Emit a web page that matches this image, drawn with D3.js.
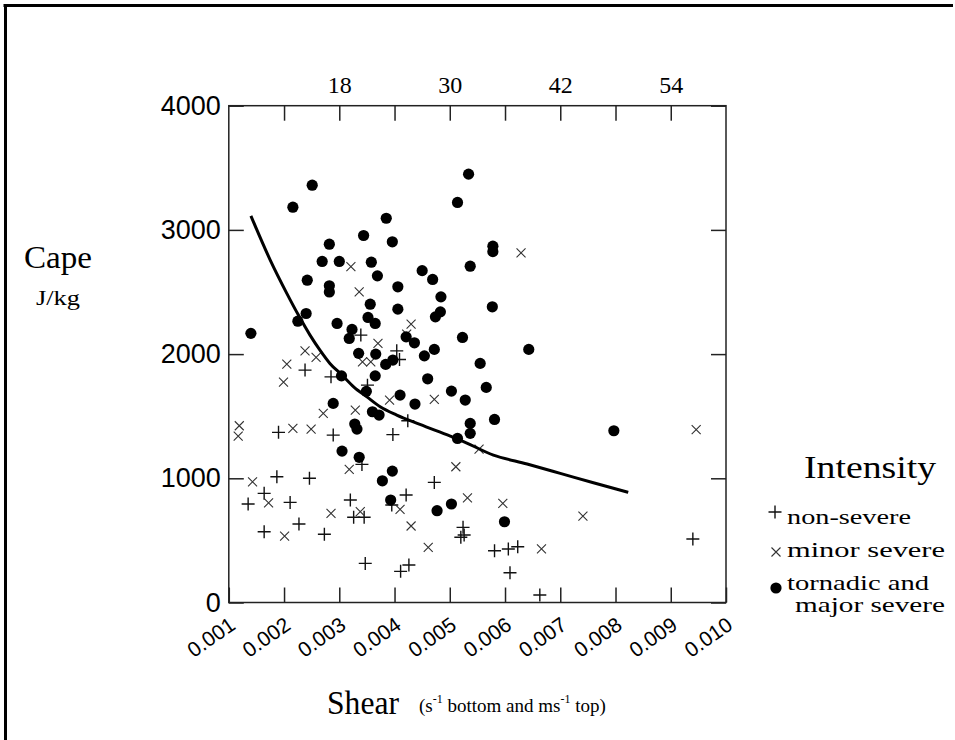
<!DOCTYPE html>
<html>
<head>
<meta charset="utf-8">
<script src="https://cdn.jsdelivr.net/npm/d3@7"></script>
<style>
  html, body { margin: 0; padding: 0; background: #fff; }
  svg { display: block; }
  .serif { font-family: "Liberation Serif", "Times New Roman", serif; }
  .sans { font-family: "Liberation Sans", Arial, sans-serif; }
</style>
</head>
<body>
<svg id="chart" width="955" height="740"></svg>
<script>
// ---------------- data ----------------
const shearTicks = [0.001, 0.002, 0.003, 0.004, 0.005, 0.006, 0.007, 0.008, 0.009, 0.010];
const shearTickLabels = ["0.001", "0.002", "0.003", "0.004", "0.005", "0.006", "0.007", "0.008", "0.009", "0.010"];
const topTicks = [12, 18, 24, 30, 36, 42, 48, 54];
const topTickLabels = [18, 30, 42, 54];
const capeTicks = [0, 1000, 2000, 3000, 4000];

// [shear (s^-1), CAPE (J/kg)]
const nonSevere = [
  [0.00339,2153],[0.00404,2026],[0.00409,1957],[0.00238,1871],[0.00285,1817],[0.00351,1750],
  [0.00424,1463],[0.00190,1370],[0.00289,1348],[0.00397,1352],[0.00341,1112],[0.00187,1012],
  [0.00246,1000],[0.00472,967],[0.00164,879],[0.00421,865],[0.00135,793],[0.00211,806],
  [0.00320,825],[0.00395,785],[0.00326,686],[0.00345,686],[0.00227,632],[0.00164,570],
  [0.00273,549],[0.00524,605],[0.00526,543],[0.00520,525],[0.00347,315],[0.00426,302],
  [0.00411,251],[0.00581,417],[0.00606,431],[0.00623,449],[0.00940,511],[0.00609,240],[0.00663,60]
];
const minorSevere = [
  [0.00321,2704],[0.00629,2815],[0.00336,2501],[0.00430,2241],[0.00422,2161],[0.00370,2086],
  [0.00238,2026],[0.00258,1973],[0.00205,1919],[0.00342,1938],[0.00357,1938],[0.00199,1775],
  [0.00472,1635],[0.00391,1630],[0.00329,1549],[0.00271,1523],[0.00119,1423],[0.00117,1340],
  [0.00216,1402],[0.00249,1396],[0.00946,1392],[0.00318,1072],[0.00511,1093],[0.00143,972],
  [0.00172,803],[0.00410,750],[0.00532,843],[0.00285,718],[0.00338,731],[0.00430,616],
  [0.00201,535],[0.00461,444],[0.00553,1235],[0.00596,798],[0.00741,696],[0.00666,431]
];
const tornadic = [
  [0.00251,3360],[0.00216,3183],[0.00385,3094],[0.00344,2955],[0.00396,2904],[0.00282,2885],
  [0.00269,2746],[0.00300,2746],[0.00358,2740],[0.00450,2672],[0.00534,3449],[0.00514,3221],
  [0.00537,2708],[0.00578,2869],[0.00578,2825],[0.00469,2601],[0.00242,2595],[0.00369,2630],
  [0.00282,2550],[0.00282,2500],[0.00406,2542],[0.00484,2461],[0.00356,2402],[0.00406,2362],
  [0.00483,2340],[0.00474,2300],[0.00240,2327],[0.00225,2265],[0.00352,2295],[0.00365,2247],
  [0.00296,2247],[0.00323,2199],[0.00318,2126],[0.00421,2139],[0.00436,2091],[0.00523,2134],
  [0.00140,2167],[0.00472,2038],[0.00335,2006],[0.00366,2000],[0.00454,1986],[0.00397,1952],
  [0.00384,1917],[0.00365,1825],[0.00304,1825],[0.00460,1801],[0.00349,1700],[0.00503,1702],
  [0.00410,1670],[0.00528,1630],[0.00437,1598],[0.00289,1603],[0.00360,1536],[0.00372,1509],
  [0.00328,1437],[0.00332,1396],[0.00537,1442],[0.00537,1362],[0.00514,1321],[0.00555,1925],
  [0.00577,2381],[0.00643,2038],[0.00566,1732],[0.00581,1474],[0.00797,1383],[0.00305,1219],
  [0.00336,1169],[0.00396,1058],[0.00378,980],[0.00393,825],[0.00477,739],[0.00503,793],[0.00599,650]
];
const curveShear = [0.00140,0.00175,0.00205,0.00226,0.00247,0.00265,0.00283,0.00305,0.00326,
                    0.00350,0.00374,0.00404,0.00446,0.00501,0.00519,0.00579,0.00640,0.00700,0.00760,0.00823];
const curveCape  = [3113,2757,2489,2314,2153,2032,1925,1831,1737,
                    1656,1576,1509,1434,1340,1308,1187,1115,1040,964,887];

const legendLabels = ["non-severe", "minor severe", "tornadic and", "major severe"];

// ---------------- layout ----------------
const svg = d3.select("#chart");
const X0 = 228.8, X1 = 726, Y0 = 602.5, Y1 = 105.7;

const x = d3.scaleLinear().domain([0.001, 0.010]).range([X0, X1]);
const xTop = d3.scaleLinear().domain([6, 60]).range([X0, X1]);
const y = d3.scaleLinear().domain([0, 4000]).range([Y0, Y1]);

// page frame (top + left rules)
svg.append("line").attr("x1", 3.5).attr("x2", 953).attr("y1", 5.5).attr("y2", 5.5)
  .attr("stroke", "#000").attr("stroke-width", 3);
svg.append("line").attr("x1", 5.5).attr("x2", 5.5).attr("y1", 4).attr("y2", 740)
  .attr("stroke", "#000").attr("stroke-width", 3);

// plot box
svg.append("rect").attr("x", X0).attr("y", Y1).attr("width", X1 - X0).attr("height", Y0 - Y1)
  .attr("fill", "none").attr("stroke", "#222").attr("stroke-width", 1.5);

function styleAxis(g) {
  g.select(".domain").remove();
  g.selectAll(".tick line").attr("stroke", "#222").attr("stroke-width", 1.5);
}

// bottom axis (ticks only; labels rotated separately)
svg.append("g").attr("transform", `translate(0,${Y0})`)
  .call(d3.axisBottom(x).tickValues(shearTicks).tickSize(-15).tickFormat(""))
  .call(styleAxis);

svg.append("g").selectAll("text").data(shearTicks).join("text")
  .attr("class", "sans")
  .attr("font-size", 21)
  .attr("text-anchor", "end")
  .attr("transform", d => `translate(${x(d) + 8},${628}) rotate(-35)`)
  .text((d, i) => shearTickLabels[i]);

// top axis
svg.append("g").attr("transform", `translate(0,${Y1})`)
  .call(d3.axisTop(xTop).tickValues(topTicks).tickSize(-15).tickPadding(13)
    .tickFormat(d => topTickLabels.includes(d) ? String(d) : ""))
  .call(styleAxis)
  .call(g => g.selectAll("text").attr("class", "serif").attr("font-size", 24)
    .attr("font-family", null).attr("fill", "#000"));

// left axis
svg.append("g").attr("transform", `translate(${X0},0)`)
  .call(d3.axisLeft(y).tickValues(capeTicks).tickSize(-15).tickPadding(8).tickFormat(d3.format("d")))
  .call(styleAxis)
  .call(g => g.selectAll("text").attr("class", "sans").attr("font-size", 27)
    .attr("font-family", null).attr("fill", "#000"));

// right axis ticks
svg.append("g").attr("transform", `translate(${X1},0)`)
  .call(d3.axisRight(y).tickValues(capeTicks).tickSize(-15).tickFormat(""))
  .call(styleAxis);

// marks
const plusPath = "M-6.5,0H6.5M0,-6.5V6.5";
const crossPath = "M-4.5,-4.5L4.5,4.5M-4.5,4.5L4.5,-4.5";

svg.append("g").selectAll("path").data(nonSevere).join("path")
  .attr("d", plusPath)
  .attr("transform", d => `translate(${x(d[0])},${y(d[1])})`)
  .attr("stroke", "#111").attr("stroke-width", 1.4).attr("fill", "none");

svg.append("g").selectAll("path").data(minorSevere).join("path")
  .attr("d", crossPath)
  .attr("transform", d => `translate(${x(d[0])},${y(d[1])})`)
  .attr("stroke", "#333").attr("stroke-width", 1.1).attr("fill", "none");

svg.append("g").selectAll("circle").data(tornadic).join("circle")
  .attr("cx", d => x(d[0])).attr("cy", d => y(d[1])).attr("r", 5.6)
  .attr("fill", "#000");

// threshold curve
const curveData = curveShear.map((s, i) => [s, curveCape[i]]);
svg.append("path").datum(curveData)
  .attr("d", d3.line().x(d => x(d[0])).y(d => y(d[1])).curve(d3.curveMonotoneX))
  .attr("fill", "none").attr("stroke", "#000").attr("stroke-width", 3);

// axis titles
svg.append("text").attr("class", "serif").attr("x", 24).attr("y", 268)
  .attr("font-size", 32).attr("textLength", 68).attr("lengthAdjust", "spacingAndGlyphs").text("Cape");
svg.append("text").attr("class", "serif").attr("x", 36).attr("y", 305)
  .attr("font-size", 22).attr("textLength", 44).attr("lengthAdjust", "spacingAndGlyphs").text("J/kg");

svg.append("text").attr("class", "serif").attr("x", 327).attr("y", 714)
  .attr("font-size", 34).attr("textLength", 72).attr("lengthAdjust", "spacingAndGlyphs").text("Shear");

const sub = svg.append("text").attr("class", "serif").attr("x", 419).attr("y", 712).attr("font-size", 19);
sub.append("tspan").text("(s");
sub.append("tspan").attr("font-size", 12).attr("dy", -9).text("-1");
sub.append("tspan").attr("dy", 9).text(" bottom and  ms");
sub.append("tspan").attr("font-size", 12).attr("dy", -9).text("-1");
sub.append("tspan").attr("dy", 9).text(" top)");

// legend
svg.append("text").attr("class", "serif").attr("x", 804).attr("y", 478)
  .attr("font-size", 32).attr("textLength", 132).attr("lengthAdjust", "spacingAndGlyphs").text("Intensity");

svg.append("path").attr("d", plusPath).attr("transform", "translate(775,512)")
  .attr("stroke", "#111").attr("stroke-width", 1.4);
svg.append("path").attr("d", crossPath).attr("transform", "translate(776,552)")
  .attr("stroke", "#333").attr("stroke-width", 1.1);
svg.append("circle").attr("cx", 776).attr("cy", 588).attr("r", 5.6).attr("fill", "#000");

const legendPos = [[787, 524, 124], [787, 557, 158], [787, 590, 142], [795, 612, 150]];
svg.append("g").selectAll("text").data(legendLabels).join("text")
  .attr("class", "serif")
  .attr("font-size", 21)
  .attr("x", (d, i) => legendPos[i][0])
  .attr("y", (d, i) => legendPos[i][1])
  .attr("textLength", (d, i) => legendPos[i][2])
  .attr("lengthAdjust", "spacingAndGlyphs")
  .text(d => d);
</script>
</body>
</html>
